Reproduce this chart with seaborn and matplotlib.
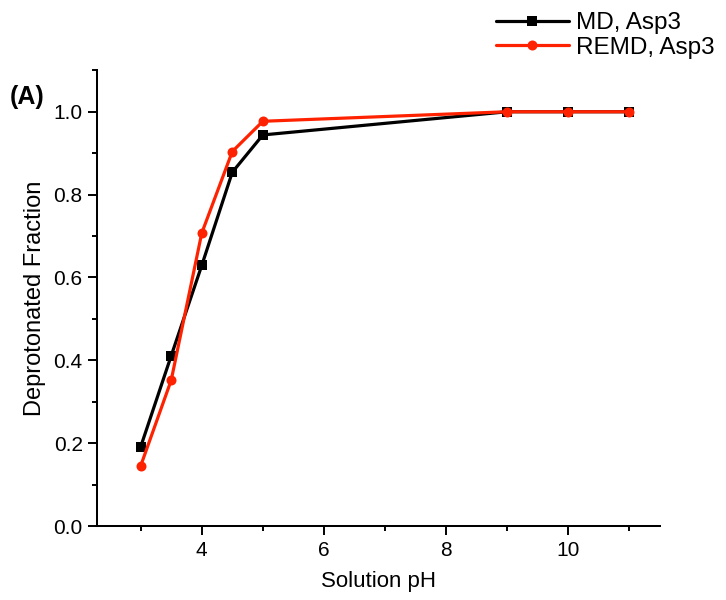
import matplotlib
matplotlib.use("Agg")
import matplotlib.pyplot as plt
from matplotlib.ticker import MultipleLocator, FormatStrFormatter
import seaborn as sns
import pandas as pd

sns.set_style("ticks")
plt.rcParams['font.family'] = ['Liberation Sans', 'DejaVu Sans']
plt.rcParams['text.color'] = 'black'
plt.rcParams['axes.labelcolor'] = 'black'
plt.rcParams['xtick.color'] = 'black'
plt.rcParams['ytick.color'] = 'black'
plt.rcParams['axes.edgecolor'] = 'black'

# data
ph = [3.0, 3.5, 4.0, 4.5, 5.0, 9.0, 10.0, 11.0]
md_asp3 = [0.191, 0.411, 0.629, 0.854, 0.944, 1.0, 1.0, 1.0]
remd_asp3 = [0.145, 0.352, 0.707, 0.904, 0.977, 1.0, 1.0, 1.0]

df = pd.DataFrame({
    "pH": ph * 2,
    "frac": md_asp3 + remd_asp3,
    "run": ["MD, Asp3"] * len(ph) + ["REMD, Asp3"] * len(ph),
})

fig = plt.figure(figsize=(7.26, 6.0), dpi=100)
ax = fig.add_axes([0.134, 0.1233, 0.775, 0.7595])

sns.lineplot(data=df, x="pH", y="frac", hue="run", style="run",
             palette={"MD, Asp3": "black", "REMD, Asp3": "#ff2200"},
             markers={"MD, Asp3": "s", "REMD, Asp3": "o"}, dashes=False,
             markersize=7.2, markeredgewidth=0, linewidth=2.3, ax=ax)

ax.set_xlim(2.29, 11.5)
ax.set_ylim(0, 1.1)
ax.xaxis.set_major_locator(MultipleLocator(2))
ax.xaxis.set_minor_locator(MultipleLocator(1))
ax.yaxis.set_major_locator(MultipleLocator(0.2))
ax.yaxis.set_minor_locator(MultipleLocator(0.1))
ax.yaxis.set_major_formatter(FormatStrFormatter('%.1f'))
ax.tick_params(which='major', direction='out', length=6.5, width=1.4, labelsize=15, pad=4)
ax.tick_params(which='minor', direction='out', length=3.5, width=1.4)
for s in ["left", "bottom"]:
    ax.spines[s].set_linewidth(1.45)
sns.despine(ax=ax)

ax.set_xlabel("Solution pH", fontsize=16)
ax.set_ylabel("Deprotonated Fraction", fontsize=17)
ax.xaxis.set_label_coords(0.5, -0.099)
ax.yaxis.set_label_coords(-0.092, 0.5)

leg = ax.legend(loc="upper left", bbox_to_anchor=(496 / 726, 1 - 12 / 600),
                bbox_transform=fig.transFigure, frameon=False,
                fontsize=17.5, handlelength=3.0, handletextpad=0.3,
                labelspacing=0.12, borderpad=0, borderaxespad=0)
for h in leg.legend_handles:
    h.set_linewidth(2.3)

fig.text(10 / 726, 1 - 97 / 600, "(A)", fontsize=18, fontweight="bold", ha="left", va="center")

fig.savefig("out.png", dpi=100)
